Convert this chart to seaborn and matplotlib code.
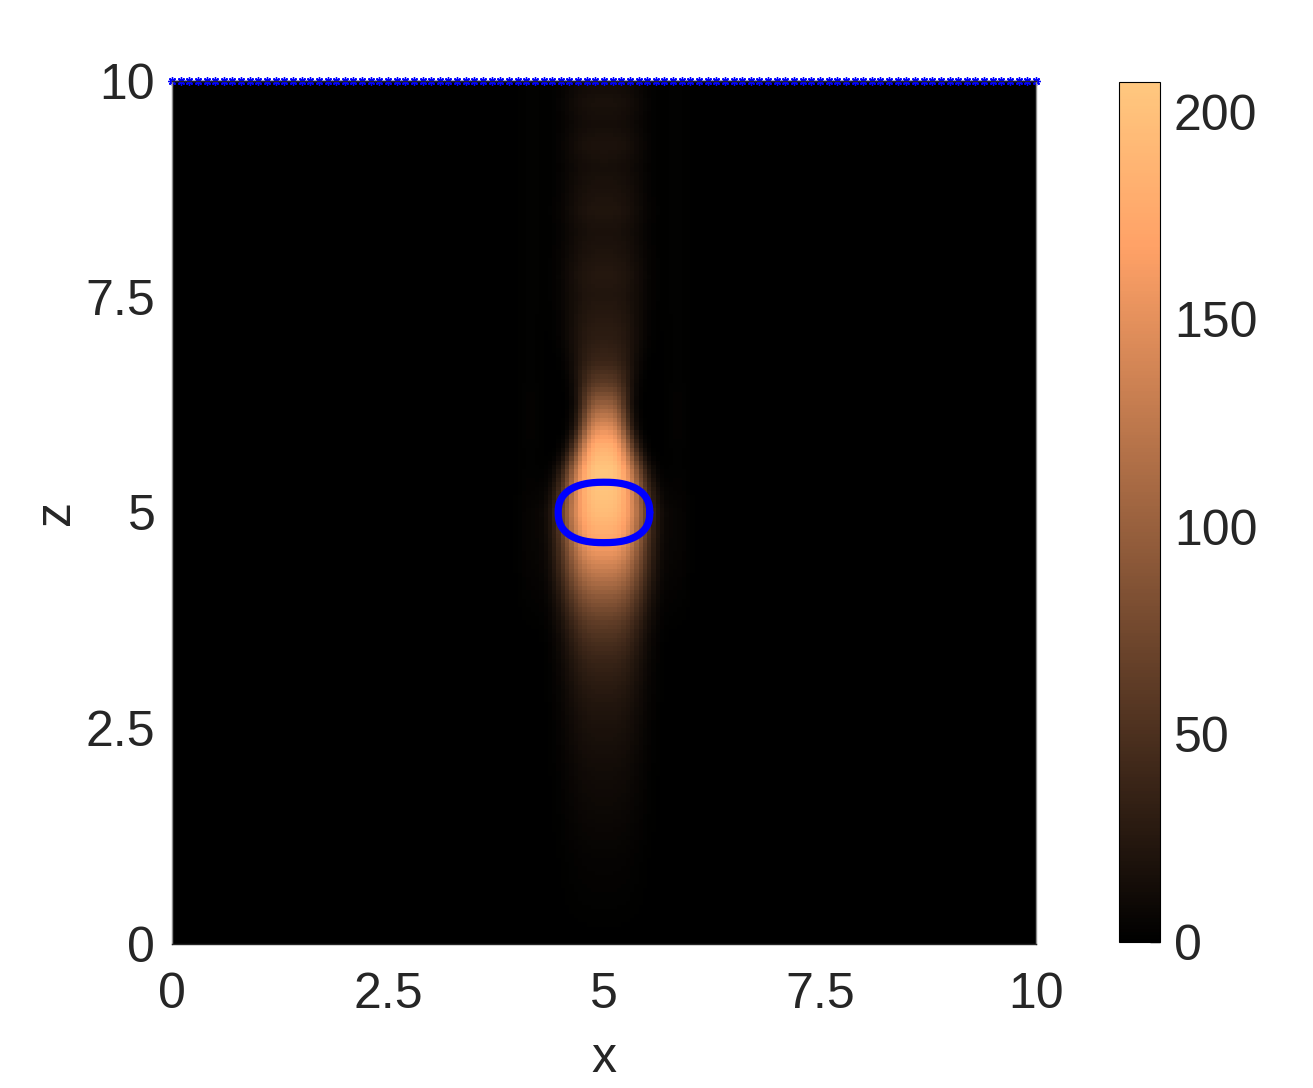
import numpy as np
import pandas as pd
import matplotlib
matplotlib.use("Agg")
import matplotlib.pyplot as plt
import seaborn as sns

# ------------------------------
# values
# ------------------------------
# intensity along the beam axis (x = 5), every 0.25 in z
z_knots = np.arange(0, 10.01, 0.25)
center_vals = [0, 1, 2, 3, 4, 6, 8, 10, 12, 15,
               18, 22, 28, 36, 48, 65, 90, 120, 150, 178,
               195, 203, 205, 185, 145, 100, 60, 38, 30, 26,
               22, 24, 20, 17, 21, 18, 15, 19, 14, 17, 12]
# half width of the plume at each z
half_width = [0.45, 0.45, 0.45, 0.45, 0.45, 0.45, 0.45, 0.45, 0.45, 0.45,
              0.45, 0.45, 0.45, 0.45, 0.45, 0.46, 0.47, 0.48, 0.48, 0.48,
              0.48, 0.45, 0.4, 0.33, 0.28, 0.27, 0.3, 0.35, 0.4, 0.42,
              0.45, 0.45, 0.45, 0.45, 0.45, 0.45, 0.45, 0.45, 0.45, 0.45, 0.45]
# faint side lobes at x ~ 4.15 and 5.85
side_vals = [0, 0, 0, 0, 0, 0, 0, 0, 0, 0,
             0, 0, 0, 0, 0, 1, 2, 3, 4, 4,
             4, 3, 2, 2, 3, 3, 2, 2, 2, 2,
             2, 2, 2, 2, 2, 2, 2, 2, 2, 2, 2]

x_ticks = [0, 2.5, 5, 7.5, 10]
z_ticks = [0, 2.5, 5, 7.5, 10]
cbar_ticks = [0, 50, 100, 150, 200]

# ------------------------------
# build the grid
# ------------------------------
n = 200
step = 10 / n
xc = (np.arange(n) + 0.5) * step
zc = (np.arange(n) + 0.5) * step
c = np.interp(zc, z_knots, center_vals)
w = np.interp(zc, z_knots, half_width)
s = np.interp(zc, z_knots, side_vals)

dx = np.abs(xc[None, :] - 5)
field = c[:, None] * np.exp(-(dx / w[:, None]) ** 3)
field += s[:, None] * (np.exp(-((xc[None, :] - 4.15) / 0.15) ** 2)
                       + np.exp(-((xc[None, :] - 5.85) / 0.15) ** 2))
df = pd.DataFrame(field, index=np.round(zc, 3), columns=np.round(xc, 3))

# ------------------------------
# plot
# ------------------------------
sns.set_theme(style="white")
plt.rcParams["font.family"] = ["Liberation Sans", "DejaVu Sans"]
txt = "#262626"
fs = 36

fig = plt.figure(figsize=(13.13, 10.88), dpi=100)
ax = fig.add_axes([0.131, 0.1324, 0.658, 0.7932])
cax = fig.add_axes([0.8522, 0.1342, 0.0312, 0.790])

sns.heatmap(df, ax=ax, cbar_ax=cax, cmap="copper", vmin=0, vmax=207,
            xticklabels=False, yticklabels=False, linewidths=0)
ax.invert_yaxis()

scale = 1 / step
ax.set_xticks([t * scale for t in x_ticks])
ax.set_xticklabels([f"{t:g}" for t in x_ticks])
ax.set_yticks([t * scale for t in z_ticks])
ax.set_yticklabels([f"{t:g}" for t in z_ticks])
ax.tick_params(axis="x", length=0, pad=20, labelsize=fs, colors=txt)
ax.tick_params(axis="y", length=0, pad=12, labelsize=fs, colors=txt)
ax.set_xlabel("x", fontsize=fs, color=txt, labelpad=13)
ax.set_ylabel("z", fontsize=fs, color=txt, labelpad=5)

for side in ["left", "right", "top", "bottom"]:
    ax.spines[side].set_visible(True)
    ax.spines[side].set_linewidth(1)
ax.spines["left"].set_color("#8c8c8c")
ax.spines["right"].set_color("#8c8c8c")
ax.spines["bottom"].set_color(txt)
ax.spines["top"].set_color(txt)

# particle outline (rounded ellipse)
t = np.linspace(0, 2 * np.pi, 400)
p = 2.4
ex = 5 + 0.53 * np.sign(np.cos(t)) * np.abs(np.cos(t)) ** (2 / p)
ez = 5 + 0.35 * np.sign(np.sin(t)) * np.abs(np.sin(t)) ** (2 / p)
ax.plot(ex * scale, ez * scale, color="#0000ff", lw=5.2)

# surface markers at z = 10
xm = np.arange(0, 10.001, 0.1)
ax.plot(xm * scale, np.full_like(xm, 10) * scale, linestyle="none",
        marker=(8, 2, 0), ms=6, mew=1, color="#0000ff", clip_on=False)

cbar = ax.collections[0].colorbar
cbar.set_ticks(cbar_ticks)
cbar.ax.tick_params(direction="in", length=7, width=1, color="black",
                    pad=10, labelsize=fs, labelcolor=txt)
cbar.outline.set_edgecolor("black")
cbar.outline.set_linewidth(0.8)

plt.savefig("out.png", dpi=100)
plt.close()
